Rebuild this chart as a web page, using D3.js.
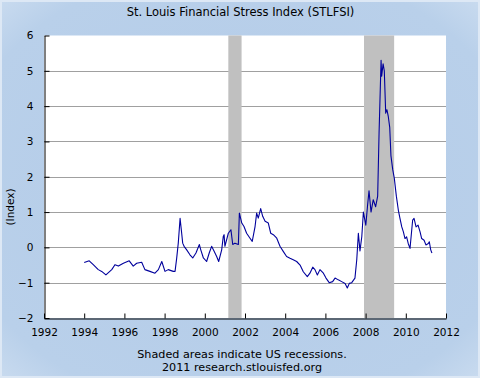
<!DOCTYPE html>
<html><head><meta charset="utf-8">
<script src="https://cdn.jsdelivr.net/npm/d3@7"></script>
<style>html,body{margin:0;padding:0;background:#fff}svg{display:block}</style>
</head><body>
<script>
// ---- data ----
const title = "St. Louis Financial Stress Index (STLFSI)";
const yLabel = "(Index)";
const footnotes = ["Shaded areas indicate US recessions.", "2011 research.stlouisfed.org"];
const xTicks = [1992,1994,1996,1998,2000,2002,2004,2006,2008,2010,2012];
const yTicks = [-2,-1,0,1,2,3,4,5,6];
const recessionStarts = [2001.17, 2007.92];
const recessionEnds = [2001.83, 2009.42];
const dates = [
1994.00,1994.25,1994.45,1994.70,1994.87,1995.08,1995.37,1995.53,1995.70,1995.95,
1996.24,1996.44,1996.61,1996.86,1997.02,1997.27,1997.52,1997.69,1997.86,1998.02,
1998.18,1998.43,1998.52,1998.60,1998.68,1998.77,1998.85,1998.90,1998.97,1999.10,
1999.26,1999.40,1999.56,1999.73,1999.80,1999.93,2000.09,2000.22,2000.34,2000.47,
2000.59,2000.69,2000.84,2000.92,2000.96,2001.00,2001.17,2001.30,2001.39,2001.50,
2001.67,2001.72,2001.84,2001.95,2002.08,2002.25,2002.36,2002.50,2002.58,2002.66,
2002.78,2002.88,2003.00,2003.16,2003.28,2003.41,2003.58,2003.74,2003.91,2004.07,
2004.24,2004.40,2004.57,2004.74,2004.90,2005.10,2005.23,2005.37,2005.48,2005.60,
2005.73,2005.90,2006.03,2006.19,2006.36,2006.48,2006.64,2006.81,2006.98,2007.09,
2007.19,2007.31,2007.47,2007.56,2007.64,2007.72,2007.81,2007.89,2008.01,2008.10,
2008.17,2008.27,2008.38,2008.50,2008.60,2008.67,2008.77,2008.80,2008.87,2008.93,
2009.00,2009.06,2009.13,2009.20,2009.26,2009.35,2009.43,2009.53,2009.63,2009.71,
2009.80,2009.88,2009.96,2010.04,2010.12,2010.21,2010.34,2010.41,2010.51,2010.61,
2010.71,2010.79,2010.91,2011.00,2011.12,2011.17,2011.24,2011.30];
const values = [
-0.43,-0.38,-0.49,-0.63,-0.68,-0.78,-0.63,-0.49,-0.53,-0.45,
-0.38,-0.53,-0.45,-0.42,-0.63,-0.68,-0.73,-0.63,-0.40,-0.68,
-0.63,-0.68,-0.68,-0.31,0.12,0.82,0.40,0.12,0.03,-0.07,
-0.21,-0.30,-0.16,0.08,-0.07,-0.30,-0.40,-0.16,0.03,-0.12,
-0.26,-0.40,-0.07,0.31,0.36,0.03,0.40,0.50,0.08,0.12,
0.08,0.97,0.69,0.59,0.40,0.26,0.17,0.59,0.97,0.83,
1.10,0.88,0.74,0.69,0.40,0.36,0.26,0.03,-0.12,-0.26,
-0.31,-0.35,-0.40,-0.50,-0.69,-0.83,-0.73,-0.56,-0.63,-0.78,
-0.63,-0.73,-0.87,-1.00,-0.97,-0.87,-0.92,-0.97,-1.02,-1.15,
-1.02,-1.00,-0.87,-0.35,0.40,-0.10,0.30,1.00,0.63,1.20,
1.60,1.00,1.35,1.15,1.45,3.24,5.30,4.85,5.20,5.00,
3.80,3.90,3.70,3.40,2.60,2.20,1.95,1.45,1.05,0.82,
0.58,0.44,0.25,0.30,0.11,-0.03,0.77,0.82,0.58,0.63,
0.44,0.25,0.20,0.07,0.11,0.16,-0.07,-0.16];

// ---- drawing ----
const W = 480, H = 378;
const font = "'DejaVu Sans', Verdana, sans-serif";
const svg = d3.select("body").append("svg").attr("width", W).attr("height", H);

const defs = svg.append("defs");
const g1 = defs.append("radialGradient").attr("id","bg").attr("cx","50%").attr("cy","50%").attr("r","75%");
g1.append("stop").attr("offset","0%").attr("stop-color","#b3cbe8");
g1.append("stop").attr("offset","80%").attr("stop-color","#b9d0ea");
g1.append("stop").attr("offset","100%").attr("stop-color","#cfdff1");
svg.append("rect").attr("width",W).attr("height",H).attr("fill","url(#bg)");
svg.append("rect").attr("x",1).attr("y",1).attr("width",W-2).attr("height",H-2)
  .attr("fill","none").attr("stroke","#dde8f5").attr("stroke-width",2);

const L = 44, R = 446, T = 35.5, B = 318;
const x = d3.scaleLinear().domain([1992, 2012]).range([L, R]);
const y = d3.scaleLinear().domain([-2, 6]).range([B, T]);

svg.append("rect").attr("x",L).attr("y",T).attr("width",R-L).attr("height",B-T).attr("fill","#ffffff");

// gridlines
svg.append("g").selectAll("line").data(yTicks.filter(d => d > -2 && d < 6)).join("line")
  .attr("x1", L).attr("x2", R)
  .attr("y1", d => Math.round(y(d)) + 0.5).attr("y2", d => Math.round(y(d)) + 0.5)
  .attr("stroke", "#a0a0a0").attr("stroke-width", 1);

// recession bands
svg.append("g").selectAll("rect").data(recessionStarts).join("rect")
  .attr("x", d => x(d)).attr("width", (d,i) => x(recessionEnds[i]) - x(d))
  .attr("y", T).attr("height", B - T).attr("fill", "#c0c0c0");

// line
const line = d3.line().x((d,i) => x(dates[i])).y(d => y(d));
svg.append("path").datum(values).attr("d", line)
  .attr("fill","none").attr("stroke","#00009c").attr("stroke-width",1.1).attr("stroke-linejoin","round");

// axes
const xAxis = d3.axisBottom(x).tickValues(xTicks).tickFormat(d3.format("d")).tickSizeInner(-5).tickSizeOuter(0).tickPadding(10);
const gx = svg.append("g").attr("transform", `translate(0,${B+0.5})`).call(xAxis);
gx.select(".domain").attr("stroke","#000");
gx.selectAll(".tick line").attr("stroke","#000");
gx.selectAll("text").attr("font-family",font).attr("font-size",10.5).attr("fill","#000");

const yAxis = d3.axisLeft(y).tickValues(yTicks).tickSizeInner(-5).tickSizeOuter(0).tickPadding(11);
const gy = svg.append("g").attr("transform", `translate(${L+0.5},0)`).call(yAxis);
gy.select(".domain").attr("stroke","#000");
gy.selectAll(".tick line").attr("stroke","#000");
gy.selectAll("text").attr("font-family",font).attr("font-size",10.5).attr("fill","#000");

// texts
svg.append("text").attr("x", 240.5).attr("y", 16).attr("text-anchor","middle")
  .attr("font-family",font).attr("font-size",11.5).attr("fill","#000").text(title);
svg.append("text").attr("transform","translate(14,207) rotate(-90)").attr("text-anchor","middle")
  .attr("font-family",font).attr("font-size",10.5).attr("fill","#000").text(yLabel);
svg.append("g").selectAll("text").data(footnotes).join("text")
  .attr("x", 242).attr("y", (d,i) => 358 + i*13).attr("text-anchor","middle")
  .attr("font-family",font).attr("font-size",11.2).attr("fill","#000").text(d => d);
</script>
</body></html>
